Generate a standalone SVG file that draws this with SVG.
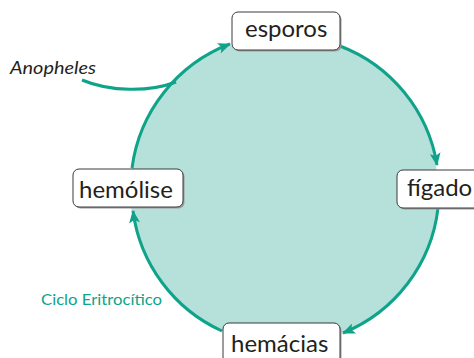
<svg xmlns="http://www.w3.org/2000/svg" width="474" height="358" viewBox="0 0 474 358">
<style>
.lbl{font-family:Lato,"Open Sans",sans-serif;font-size:24px;fill:#231f20}
.box{fill:#fff;stroke:#3a3a3a;stroke-width:1}
.sh{fill:#9a9a9a}
.arc{fill:none;stroke:#0fa389;stroke-width:3}
</style>
<defs>
<marker id="ah" viewBox="0 0 13 11" refX="12" refY="5.5" markerWidth="13" markerHeight="11" markerUnits="userSpaceOnUse" orient="auto">
<path d="M0 0 L13 5.5 L0 11 L3 5.5 Z" fill="#0fa389"/>
</marker>
</defs>
<circle cx="284" cy="190" r="154" fill="#b6e0da"/>
<g id="connectors">
<path class="arc" d="M340 46 A154 154 0 0 1 437 165" marker-end="url(#ah)"/>
<path class="arc" d="M438 208 A154 154 0 0 1 343 333" marker-end="url(#ah)"/>
<path class="arc" d="M222 331 A154 154 0 0 1 133 211" marker-end="url(#ah)"/>
<path class="arc" d="M132 168 A154 154 0 0 1 230 44" marker-end="url(#ah)"/>
<path class="arc" d="M82 80 C110 92 150 92 176 82"/>
</g>
<g id="esporos">
<rect class="sh" x="233.5" y="13.5" width="108" height="38" rx="6"/>
<rect class="box" x="232" y="12" width="108" height="38" rx="6"/>
<text class="lbl" x="245" y="37">esporos</text>
</g>
<g id="figado">
<rect class="sh" x="398.5" y="171.5" width="90" height="38" rx="6"/>
<rect class="box" x="397" y="170" width="90" height="38" rx="6"/>
<text class="lbl" x="407" y="196">fígado</text>
</g>
<g id="hemacias">
<rect class="sh" x="224.5" y="324.5" width="117" height="40" rx="6"/>
<rect class="box" x="223" y="323" width="117" height="40" rx="6"/>
<text class="lbl" x="231" y="352">hemácias</text>
</g>
<g id="hemolise">
<rect class="sh" x="74.5" y="170.5" width="110" height="38" rx="6"/>
<rect class="box" x="73" y="169" width="110" height="38" rx="6"/>
<text class="lbl" x="79" y="198">hemólise</text>
</g>
<text x="10" y="74" font-family="Lato,'Open Sans',sans-serif" font-size="18" font-style="italic" fill="#231f20" textLength="86" lengthAdjust="spacingAndGlyphs">Anopheles</text>
<text x="41" y="305" font-family="Lato,'Open Sans',sans-serif" font-size="15" fill="#0fa389" textLength="121" lengthAdjust="spacingAndGlyphs">Ciclo Eritrocítico</text>
</svg>
